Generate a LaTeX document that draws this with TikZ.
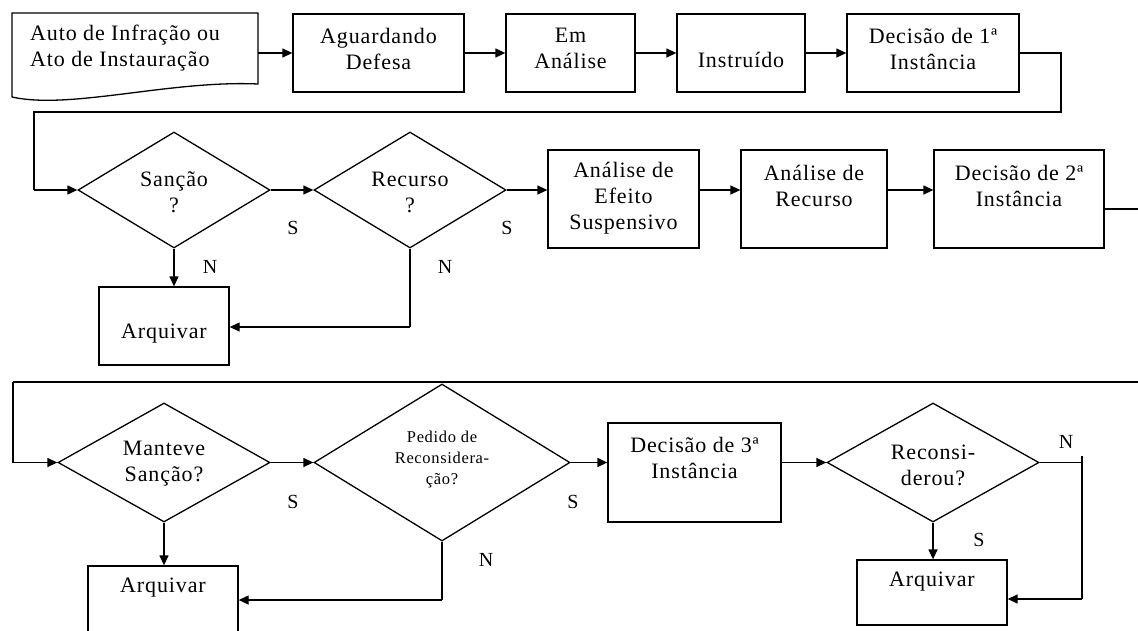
\documentclass[tikz,border=0pt]{standalone}
\usepackage{fontspec}
\setmainfont{Liberation Serif}[LetterSpace=4]
\usetikzlibrary{shapes.geometric,arrows.meta}
\begin{document}
\begin{tikzpicture}[x=1pt,y=-1pt,
  box/.style={draw, line width=1.3pt, inner sep=0pt},
  dec/.style={diamond, draw, line width=1.3pt, inner sep=0pt},
  txt/.style={align=center, inner sep=0pt, font=\fontsize{22}{26}\selectfont},
  smalltxt/.style={align=center, inner sep=0pt, font=\fontsize{16.5}{21}\selectfont},
  lab/.style={inner sep=0pt, font=\fontsize{20}{24}\selectfont},
  conn/.style={line width=1.3pt},
  arr/.style={line width=1.3pt, -{Triangle[length=10pt,width=9pt]}}]
\useasboundingbox (0,0) rectangle (1138,630);
\clip (0,0) rectangle (1138,630);

% top row
\draw[conn] (12,97) -- (12,13) -- (258,13) -- (258,84) .. controls (170,80) and (70,110) .. (12,97);
\node[inner sep=0pt, minimum width=246pt, minimum height=80pt] (auto) at (135,53) {};
\node[txt, align=left, anchor=west] (autot) at (30,48) {Auto de Infração ou\\Ato de Instauração};
\node[box, minimum width=171pt, minimum height=78pt] (agu) at (378.5,53) {};
\node[txt] (agut) at (378.5,48.5) {Aguardando\\Defesa};
\node[box, minimum width=129pt, minimum height=78pt] (ema) at (570.5,53) {};
\node[txt] (emat) at (570.5,48) {Em\\Análise};
\node[box, minimum width=128pt, minimum height=78pt] (ins) at (741,53) {};
\node[txt] (inst) at (741,60) {Instruído};
\node[box, minimum width=172pt, minimum height=78pt] (dec1) at (933,53) {};
\node[txt] (dec1t) at (933,48.5) {Decisão de 1ª\\Instância};

\draw[arr] (auto.east) -- (agu.west);
\draw[arr] (agu) -- (ema);
\draw[arr] (ema) -- (ins);
\draw[arr] (ins) -- (dec1);

% middle row
\node[dec, minimum width=192pt, minimum height=116pt] (sanc) at (174,190) {};
\node[txt] (senct) at (174,192) {Sanção\\?};
\node[dec, minimum width=192pt, minimum height=116pt] (rec) at (410,190) {};
\node[txt] (rect) at (410,192) {Recurso\\?};
\node[box, minimum width=130pt, minimum height=78pt] (arq1) at (164,326) {};
\node[txt] (arq1t) at (164,334) {Arquivar};
\node[box, minimum width=151pt, minimum height=98pt] (aes) at (623.5,199) {};
\node[txt] (aest) at (623.5,198) {Análise de\\Efeito\\Suspensivo};
\node[box, minimum width=146pt, minimum height=98pt] (ar) at (814,199) {};
\node[txt] (art) at (814,186) {Análise de\\Recurso};
\node[box, minimum width=170pt, minimum height=98pt] (dec2) at (1019,199) {};
\node[txt] (dec2t) at (1019,186) {Decisão de 2ª\\Instância};
\coordinate (d2out) at (1138,209);

\draw[conn] (dec1.east) -- (1061,53) -- (1061,112) -- (34,112) -- (34,190);
\draw[arr] (34,190) -- (sanc.west);
\draw[arr] (sanc.east) -- (rec.west);
\draw[arr] (rec.east) -- (rec.east -| aes.west);
\draw[arr] (aes.east |- 0,190) -- (ar.west |- 0,190);
\draw[arr] (ar.east |- 0,190) -- (dec2.west |- 0,190);
\draw[arr] (sanc.south) -- (sanc.south |- arq1.north);
\draw[conn] (rec.south) -- (410,327);
\draw[arr] (410,327) -- (arq1.east |- 0,327);
\draw[conn] (dec2.east |- d2out) -- (d2out);

\node[lab] (s1) at (293,228) {S};
\node[lab] (s2) at (507,228) {S};
\node[lab] (n1) at (210,267) {N};
\node[lab] (n2) at (445,267) {N};

% bottom row
\node[dec, minimum width=212pt, minimum height=119pt] (man) at (164,462.5) {};
\node[txt] (mant) at (164,464) {Manteve\\Sanção?};
\node[dec, minimum width=256pt, minimum height=157pt] (ped) at (442,462.5) {};
\node[smalltxt] (pedt) at (442,460) {Pedido de\\Reconsidera-\\ção?};
\node[box, minimum width=173pt, minimum height=99pt] (dec3) at (694.5,472.5) {};
\node[txt] (dec3t) at (694.5,458) {Decisão de 3ª\\Instância};
\node[dec, minimum width=212pt, minimum height=119pt] (recon) at (933,462.5) {};
\node[txt] (recont) at (933,465) {Reconsi-\\derou?};
\node[box, minimum width=150pt, minimum height=80pt] (arq2) at (163,606) {};
\node[txt] (arq2t) at (163,588) {Arquivar};
\node[box, minimum width=150pt, minimum height=65pt] (arq3) at (932,592.5) {};
\node[txt] (arq3t) at (932,582) {Arquivar};
\coordinate (rc) at (1082,462.5);

\draw[conn] (13,382) -- (1138,382);
\draw[conn] (13,382) -- (13,462.5);
\draw[arr] (13,462.5) -- (man.west);
\draw[arr] (man.east) -- (ped.west);
\draw[arr] (ped.east) -- (ped.east -| dec3.west);
\draw[arr] (dec3.east |- recon.west) -- (recon.west);
\draw[conn] (recon.east) -- (rc);
\draw[conn] (1082,456) -- (1082,599);
\draw[arr] (1082,599) -- (arq3.east |- 0,599);
\draw[arr] (man.south) -- (man.south |- arq2.north);
\draw[conn] (ped.south) -- (442,600);
\draw[arr] (442,600) -- (arq2.east |- 0,600);
\draw[arr] (recon.south) -- (recon.south |- arq3.north);

\node[lab] (s3) at (293,502) {S};
\node[lab] (s4) at (573,502) {S};
\node[lab] (n3) at (486,560) {N};
\node[lab] (n4) at (1066,442) {N};
\node[lab] (s5) at (979,540) {S};
\end{tikzpicture}
\end{document}
